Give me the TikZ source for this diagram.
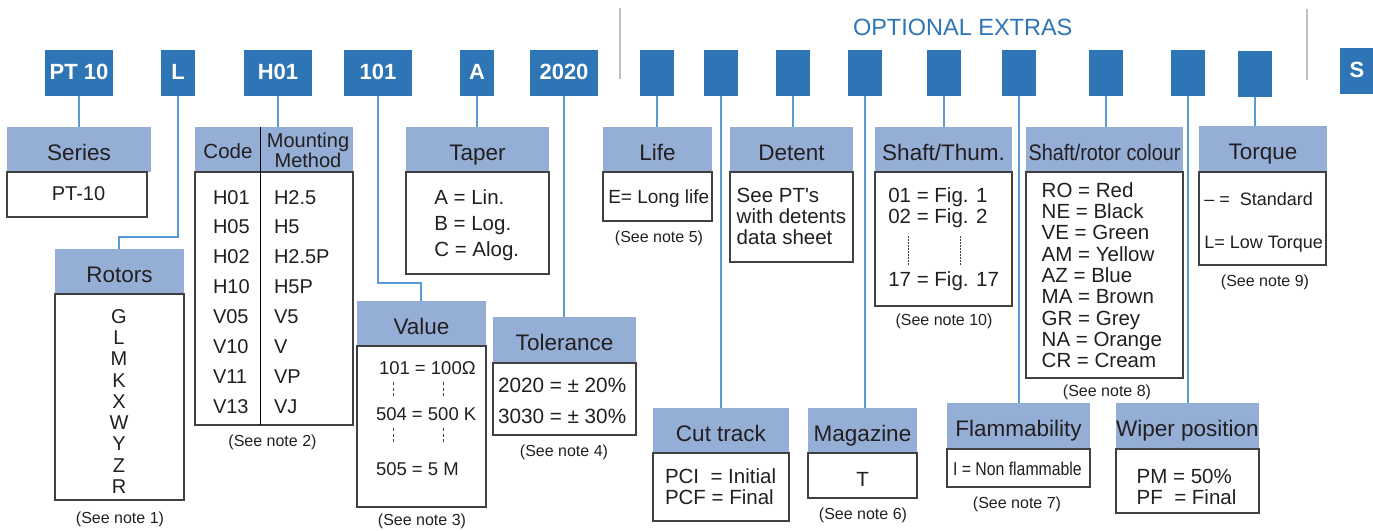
\documentclass[tikz,border=0pt]{standalone}
\usepackage{fontspec}
\setmainfont{Liberation Sans}
\usepackage{graphicx}
\definecolor{cblue}{HTML}{2E75B6}
\definecolor{hblue}{HTML}{95AED6}
\definecolor{lnblue}{HTML}{5B9BD5}
\definecolor{bgray}{HTML}{404040}
\definecolor{txt}{HTML}{231F20}
\definecolor{sepgray}{HTML}{BFBFBF}
\newcommand\fsz[1]{\fontsize{#1}{#1}\selectfont}
\newcommand\fszb[2]{\fontsize{#1}{#2}\selectfont}
\newcommand\stack[2]{\begin{tabular}[t]{@{}#1@{}}#2\end{tabular}}
% header: name, x1, x2, ytop, ybot, title
\newcommand\hdr[6]{\node[hdrbox, minimum width={#3-#2}, minimum height={#5-#4}] (#1) at ({(#2+#3)/2},{(#4+#5)/2}) {#6};}
% body: name, x1, x2, ytop, ybot
\newcommand\bbox[5]{\node[bodybox, minimum width={#3-#2}, minimum height={#5-#4}] (#1) at ({(#2+#3)/2},{(#4+#5)/2}) {};}
\begin{document}
\begin{tikzpicture}[x=1pt,y=-1pt,
  every node/.style={inner sep=0pt, outer sep=0pt, text=txt},
  codebox/.style={fill=cblue, text=white, font=\bfseries\fsz{22}, text height=16pt, text depth=4pt, minimum height=46pt},
  hdrbox/.style={fill=hblue, font=\fsz{22.5}, text height=21pt, text depth=0pt},
  bodybox/.style={draw=bgray, line width=1.3pt, fill=white},
  conn/.style={draw=lnblue, line width=1.4pt},
  note/.style={font=\fsz{16}, anchor=base},
  content/.style={anchor=base west},
  sepline/.style={draw=sepgray, line width=1.8pt},
  vdash/.style={draw=bgray, line width=0.8pt, dash pattern=on 3pt off 2.5pt},
  vdot/.style={draw=bgray, line width=0.8pt, dash pattern=on 1.5pt off 1.5pt}]
\useasboundingbox (0,0) rectangle (1373,530);

% separators and title
\draw[sepline] (620,8) -- (620,79);
\draw[sepline] (1307,9) -- (1307,80);
\node[anchor=base west, text=cblue, font=\fsz{23.5}] (opt) at (853,35) {OPTIONAL EXTRAS};

% code boxes
\node[codebox, minimum width=68pt] (cPT) at (79,73) {PT 10};
\node[codebox, minimum width=34pt] (cL) at (178,73) {L};
\node[codebox, minimum width=68pt] (cH) at (278,73) {H01};
\node[codebox, minimum width=68pt] (cV) at (378,73) {101};
\node[codebox, minimum width=34pt] (cA) at (477,73) {A};
\node[codebox, minimum width=68pt] (cT) at (564,73) {2020};
\node[codebox, minimum width=34pt] (oLife) at (657,73) {};
\node[codebox, minimum width=34pt] (oCut) at (721,73) {};
\node[codebox, minimum width=34pt] (oDet) at (793,73) {};
\node[codebox, minimum width=34pt] (oMag) at (865,73) {};
\node[codebox, minimum width=34pt] (oShaft) at (944,73) {};
\node[codebox, minimum width=34pt] (oFlam) at (1019,73) {};
\node[codebox, minimum width=34pt] (oCol) at (1106,73) {};
\node[codebox, minimum width=34pt] (oWip) at (1188,73) {};
\node[codebox, minimum width=34pt] (oTor) at (1255,74) {};
\node[codebox, minimum width=34pt] (cS) at (1357,71) {S};

% headers
\hdr{serh}{7}{151}{127}{172}{Series}
\hdr{roth}{55}{184}{249}{294}{Rotors}
\hdr{mounth}{195}{353}{127}{172}{}
\hdr{taph}{406}{549}{127}{172}{Taper}
\hdr{valh}{357}{486}{301}{346}{Value}
\hdr{tolh}{493}{636}{317}{363}{Tolerance}
\hdr{lifeh}{603}{712}{127}{172}{Life}
\hdr{cuth}{653}{789}{408}{453}{Cut track}
\hdr{deth}{730}{853}{127}{172}{Detent}
\hdr{magh}{808}{917}{408}{453}{Magazine}
\hdr{shafth}{875}{1012}{127}{172}{Shaft/Thum.}
\hdr{colh}{1026}{1183}{127}{172}{\scalebox{0.88}[1]{Shaft/rotor colour}}
\hdr{flamh}{947}{1090}{403}{449}{Flammability}
\hdr{wiph}{1116}{1259}{403}{449}{Wiper position}
\hdr{torh}{1199}{1327}{126}{172}{Torque}

% bodies
\bbox{serb}{7}{147}{172}{217}
\bbox{rotb}{55}{184}{294}{500}
\bbox{mountb}{195}{353}{172}{425}
\bbox{tapb}{406}{549}{172}{274}
\bbox{valb}{357}{486}{346}{507}
\bbox{tolb}{493}{636}{363}{435}
\bbox{lifeb}{603}{712}{172}{221}
\bbox{cutb}{653}{789}{453}{521}
\bbox{detb}{730}{853}{172}{262}
\bbox{magb}{808}{917}{453}{498}
\bbox{shaftb}{875}{1012}{172}{306}
\bbox{colb}{1026}{1183}{172}{378}
\bbox{flamb}{947}{1090}{449}{487}
\bbox{wipb}{1116}{1259}{449}{513}
\bbox{torb}{1199}{1326}{172}{265}

% connectors
\coordinate (bL) at (119,237);
\coordinate (bV) at (421,283);
\draw[conn] (cPT.south) -- (cPT.south |- serh.north);
\draw[conn] (cL.south) |- (bL) -- (bL |- roth.north);
\draw[conn] (cH.south) -- (cH.south |- mounth.north);
\draw[conn] (cV.south) |- (bV) -- (bV |- valh.north);
\draw[conn] (cA.south) -- (cA.south |- taph.north);
\draw[conn] (cT.south) -- (cT.south |- tolh.north);
\draw[conn] (oLife.south) -- (oLife.south |- lifeh.north);
\draw[conn] (oCut.south) -- (oCut.south |- cuth.north);
\draw[conn] (oDet.south) -- (oDet.south |- deth.north);
\draw[conn] (oMag.south) -- (oMag.south |- magh.north);
\draw[conn] (oShaft.south) -- (oShaft.south |- shafth.north);
\draw[conn] (oFlam.south) -- (oFlam.south |- flamh.north);
\draw[conn] (oCol.south) -- (oCol.south |- colh.north);
\draw[conn] (oWip.south) -- (oWip.south |- wiph.north);
\draw[conn] (oTor.south) -- (oTor.south |- torh.north);

% contents
\node[font=\fsz{20}, anchor=base] (serT) at (78.5,200) {PT-10};
\node[font=\fszb{20}{21.25}, anchor=base] (rotT) at (119,323.3) {\stack{c}{G\\L\\M\\K\\X\\W\\Y\\Z\\R}};

\draw[black, line width=1pt] (260,127) -- (260,425);
\node[font=\fsz{20.5}, anchor=base] (mcode) at (228,158.3) {Code};
\node[font=\fszb{20}{20}, anchor=base] (mmeth) at (308,147) {\stack{c}{Mounting\\Method}};
\node[content, font=\fszb{20}{29.9}] (mcol1) at (213,204) {\stack{l}{H01\\H05\\H02\\H10\\V05\\V10\\V11\\V13}};
\node[content, font=\fszb{20}{29.9}] (mcol2) at (274,204) {\stack{l}{H2.5\\H5\\H2.5P\\H5P\\V5\\V\\VP\\VJ}};

\node[content, font=\fszb{20.5}{26}] (tapT) at (434.3,204.7) {\stack{l}{A = Lin.\\B = Log.\\C = Alog.}};

\node[content, font=\fsz{18.5}] (val1) at (379,374) {101 = 100Ω};
\node[content, font=\fsz{18.5}] (val2) at (376,420.7) {504 = 500 K};
\node[content, font=\fsz{18.5}] (val3) at (376,475.7) {505 = 5 M};
\draw[vdash] (393,382) -- (393,397);
\draw[vdash] (443,382) -- (443,397);
\draw[vdash] (393,428) -- (393,443);
\draw[vdash] (443,428) -- (443,443);

\node[content, font=\fszb{20.7}{31}] (tolT) at (498,392.3) {\stack{l}{2020 = ± 20\%\\3030 = ± 30\%}};

\node[content, font=\fsz{19}] (lifeT) at (608.3,203.3) {E= Long life};
\node[content, font=\fszb{20.5}{21.3}] (detT) at (736.7,202.3) {\stack{l}{See PT\textquotesingle s\\with detents\\data sheet}};

\node[content, font=\fszb{20.5}{21}] (shT) at (888.3,202.3) {\stack{l}{01 = Fig. 1\\02 = Fig. 2}};
\node[content, font=\fsz{20.5}] (shT2) at (888.3,286.7) {17 = Fig. 17};
\draw[vdot] (908,236) -- (908,265.7);
\draw[vdot] (960,236) -- (960,265.7);

\node[content, font=\fszb{20.5}{21.3}] (colT) at (1041.7,197.3) {\stack{l}{RO = Red\\NE = Black\\VE = Green\\AM = Yellow\\AZ = Blue\\MA = Brown\\GR = Grey\\NA = Orange\\CR = Cream}};

\node[content, font=\fszb{20.5}{20.7}] (cutT) at (665,483.3) {\stack{l}{PCI\ \ = Initial\\PCF = Final}};
\node[font=\fsz{20.5}, anchor=base] (magT) at (862.7,486.7) {T};
\node[content, font=\fsz{18.6}] (flamT) at (953,475) {\scalebox{0.85}[1]{I = Non flammable}};
\node[content, font=\fszb{20.5}{20}] (wipT) at (1136.7,483.3) {\stack{l}{PM = 50\%\\PF\ \ = Final}};
\node[content, font=\fsz{18}] (torT1) at (1204.3,205) {– =\ \ Standard};
\node[content, font=\fsz{18}] (torT2) at (1204.3,248.3) {L= Low Torque};

% notes
\node[note] (n1) at (120,523) {(See note 1)};
\node[note] (n2) at (272.5,446.7) {(See note 2)};
\node[note] (n3) at (422,525.5) {(See note 3)};
\node[note] (n4) at (564,456) {(See note 4)};
\node[note] (n5) at (659,242.7) {(See note 5)};
\node[note] (n6) at (863,519.3) {(See note 6)};
\node[note] (n7) at (1017,508.3) {(See note 7)};
\node[note] (n8) at (1107,396.7) {(See note 8)};
\node[note] (n9) at (1265,286.7) {(See note 9)};
\node[note] (n10) at (944,325) {(See note 10)};
\end{tikzpicture}
\end{document}
